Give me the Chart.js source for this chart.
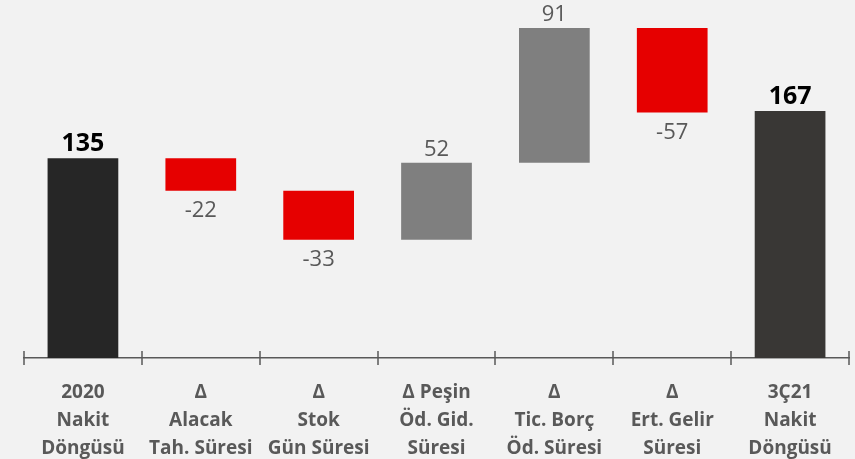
<!DOCTYPE html>
<html>
<head>
<meta charset="utf-8">
<script src="https://cdn.jsdelivr.net/npm/chart.js@4.4.1/dist/chart.umd.min.js"></script>
<style>
  html, body { margin: 0; padding: 0; background: #f2f2f2; }
  #wrap { width: 855px; height: 459px; }
</style>
</head>
<body>
<div id="wrap"><canvas id="cashCycle"></canvas></div>
<script>
// Nakit döngüsü köprüsü (gün)
const categories = [
    ['2020', 'Nakit', 'Döngüsü'],
    ['Δ', 'Alacak', 'Tah. Süresi'],
    ['Δ', 'Stok', 'Gün Süresi'],
    ['Δ Peşin', 'Öd. Gid.', 'Süresi'],
    ['Δ', 'Tic. Borç', 'Öd. Süresi'],
    ['Δ', 'Ert. Gelir', 'Süresi'],
    ['3Ç21', 'Nakit', 'Döngüsü']
];
const changes = [135, -22, -33, 52, 91, -57, 167];
const barFrom = [0, 113, 80, 80, 132, 166, 0];
const barTo = [135, 135, 113, 132, 223, 223, 167];
const isTotal = [true, false, false, false, false, false, true];

const barColors = changes.map((v, i) => {
    if (i === 0) return '#262626';
    if (isTotal[i]) return '#393735';
    return v < 0 ? '#e60000' : '#7f7f7f';
});

// value labels + crossing tick marks on the category axis
const waterfallExtras = {
    id: 'waterfallExtras',
    afterDatasetsDraw(chart) {
        const ctx = chart.ctx;
        const meta = chart.getDatasetMeta(0);
        const x = chart.scales.x;
        ctx.save();
        ctx.textAlign = 'center';
        meta.data.forEach((bar, i) => {
            const v = changes[i];
            const top = Math.min(bar.y, bar.base);
            const bottom = Math.max(bar.y, bar.base);
            if (isTotal[i]) {
                ctx.font = 'bold 25px "Open Sans", sans-serif';
                ctx.fillStyle = '#000000';
            } else {
                ctx.font = '22px "Open Sans", sans-serif';
                ctx.fillStyle = '#595959';
            }
            if (v < 0) {
                ctx.textBaseline = 'top';
                ctx.fillText(String(v), bar.x, bottom + 9);
            } else {
                ctx.textBaseline = 'bottom';
                ctx.fillText(String(v), bar.x, top - 2);
            }
        });
        const yAxis = x.top;
        ctx.strokeStyle = '#595959';
        ctx.lineWidth = 1.5;
        for (let i = 0; i <= categories.length; i++) {
            const px = Math.round(x.getPixelForValue(i - 0.5));
            ctx.beginPath();
            ctx.moveTo(px, yAxis - 7);
            ctx.lineTo(px, yAxis + 7);
            ctx.stroke();
        }
        ctx.restore();
    }
};

new Chart(document.getElementById('cashCycle'), {
    type: 'bar',
    data: {
        labels: categories,
        datasets: [{
            data: barFrom.map((f, i) => [f, barTo[i]]),
            backgroundColor: barColors,
            borderWidth: 0,
            barPercentage: 0.6,
            categoryPercentage: 1
        }]
    },
    options: {
        responsive: true,
        maintainAspectRatio: false,
        animation: false,
        layout: { padding: { left: 24, right: 6, top: 0, bottom: 0 } },
        plugins: {
            legend: { display: false },
            tooltip: { enabled: false }
        },
        scales: {
            x: {
                offset: true,
                grid: { display: false, drawTicks: false },
                border: { display: true, color: '#595959', width: 1.5 },
                ticks: {
                    color: '#595959',
                    padding: 21,
                    maxRotation: 0,
                    autoSkip: false,
                    font: { family: '"Open Sans", sans-serif', size: 19, weight: 'bold', lineHeight: 1.47 }
                },
                afterFit(scale) { scale.height = 101; }
            },
            y: {
                display: false,
                min: 0,
                max: 242
            }
        }
    },
    plugins: [waterfallExtras]
});
</script>
</body>
</html>
